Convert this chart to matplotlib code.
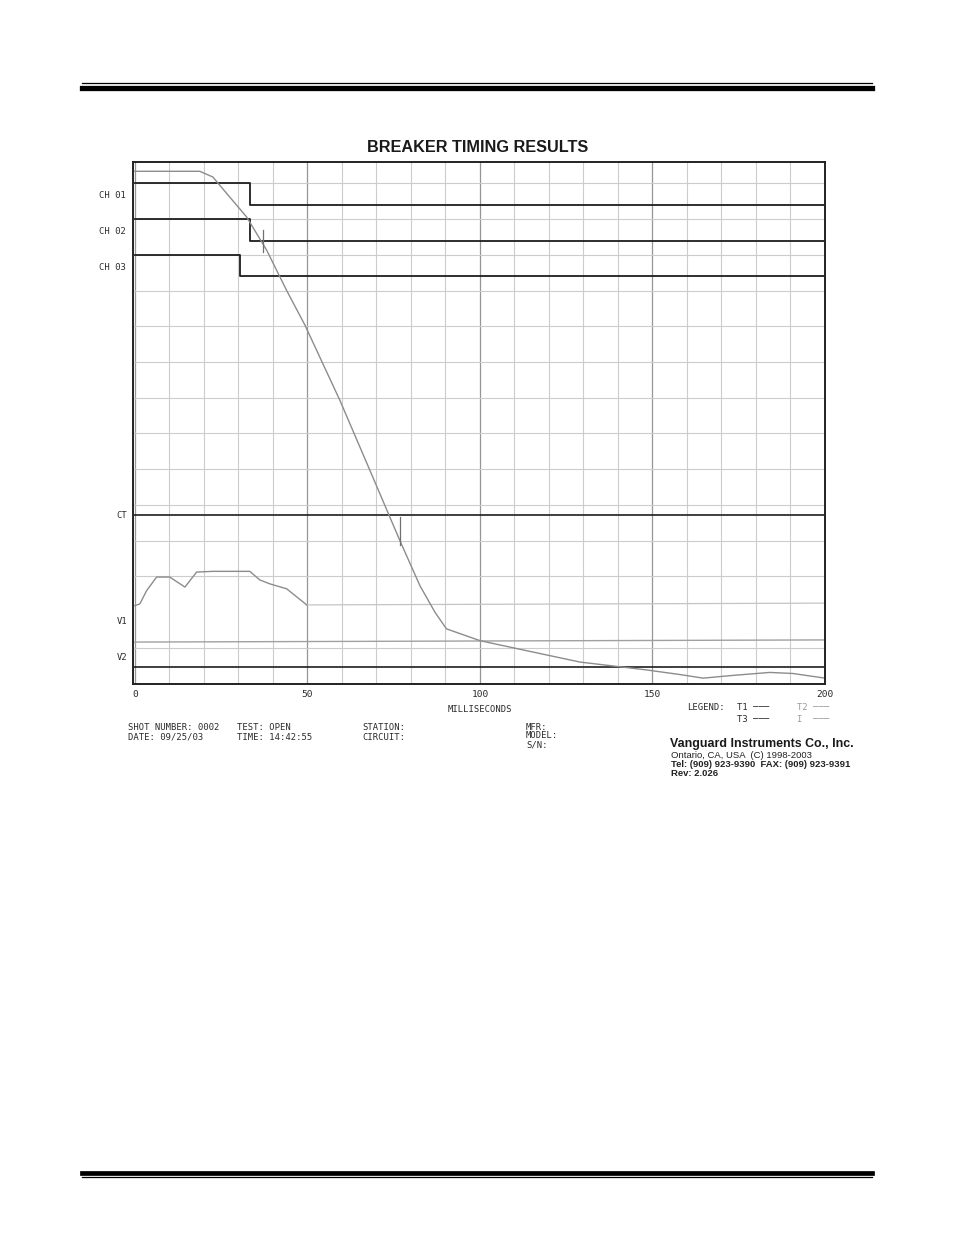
import matplotlib
matplotlib.use("Agg")
import matplotlib.pyplot as plt
from matplotlib.lines import Line2D

W, H = 954, 1235

# trace "I" (gray curve), ms vs grid units
i_ms = [0, 18.8, 22.6, 26.6, 32.4, 38.2, 44.0, 49.3, 59.4, 68.1, 76.8, 82.6,
        87.0, 90.3, 100.0, 109.6, 129.0, 148.3, 158.0, 164.7, 172.5, 184.0,
        190.7, 200.0]
i_val = [14.34, 14.34, 14.18, 13.72, 13.06, 12.13, 11.0, 10.03, 7.93, 5.97,
         4.0, 2.74, 1.99, 1.53, 1.2, 1.0, 0.6, 0.38, 0.25, 0.15, 0.22, 0.31,
         0.28, 0.15]

# V1 trace (active part, then resting baseline)
v1_ms = [0, 1.45, 3.4, 6.3, 10.1, 14.5, 17.9, 22.7, 27.5, 33.3, 36.2, 39.1,
         44.0, 49.8]
v1_val = [2.18, 2.23, 2.6, 2.98, 2.98, 2.7, 3.12, 3.14, 3.14, 3.14, 2.9,
          2.79, 2.65, 2.2]
v1_rest_ms = [49.8, 200]
v1_rest_val = [2.2, 2.25]

# V2 trace (flat, light)
v2_ms = [0, 200]
v2_val = [1.16, 1.22]

# contact channels: (high level, low level, opening time ms)
ch_names = ["CH 01", "CH 02", "CH 03"]
ch_high = [14.0, 13.0, 12.0]
ch_low = [13.4, 12.4, 11.4]
ch_open = [33.3, 33.5, 30.4]

ct_level = 4.72
v2_base = 0.45

# small marks on the I curve
mark_ms = [37.0, 76.8]
mark_lo = [12.07, 3.87]
mark_hi = [12.7, 4.65]

x_major = [0, 50, 100, 150, 200]
y_grid = [0, 1, 3, 4, 5, 6, 7, 8, 9, 10, 11, 12, 13, 14]

MONO = "DejaVu Sans Mono"


def fx(x):
    return x / W


def fy(y):
    return 1 - y / H


def main():
    fig = plt.figure(figsize=(W / 100, H / 100), dpi=100)
    fig.patch.set_facecolor("white")

    # page rules
    for y, lw in [(83.0, 0.9), (87.6, 3.8), (1173.3, 3.4), (1177.4, 0.9)]:
        fig.add_artist(Line2D([fx(82), fx(872)], [fy(y), fy(y)],
                              transform=fig.transFigure, color="black", lw=lw))

    ax = fig.add_axes([fx(133.5), fy(683.5), fx(825 - 133.5), (683.5 - 162) / H])
    ax.set_xlim(-0.4, 200)
    ax.set_ylim(0, 14.6)

    ax.set_xticks(x_major)
    ax.set_xticks(range(0, 201, 10), minor=True)
    ax.set_yticks(y_grid)
    ax.set_yticklabels([])
    ax.set_xticklabels([str(v) for v in x_major], family=MONO, fontsize=6.8,
                       color="#2a2a2a")
    ax.tick_params(which="both", length=0, pad=5)
    ax.grid(True, which="minor", axis="x", color="#cccccc", lw=0.8)
    ax.grid(True, which="major", axis="x", color="#959595", lw=0.9)
    ax.grid(True, which="major", axis="y", color="#cccccc", lw=0.8)
    ax.set_axisbelow(True)
    for s in ax.spines.values():
        s.set_color("#222222")
        s.set_linewidth(1.4)

    # contact channels
    for hi, lo, t in zip(ch_high, ch_low, ch_open):
        ax.plot([0, t, t, 200], [hi, hi, lo, lo], color="#1e1e1e", lw=1.3)

    ax.axhline(ct_level, color="#1e1e1e", lw=1.2)
    ax.axhline(v2_base, color="#1e1e1e", lw=1.2)

    ax.plot(v2_ms, v2_val, color="#a0a0a0", lw=1.0)
    ax.plot(v1_rest_ms, v1_rest_val, color="#c4c4c4", lw=0.9)
    ax.plot(v1_ms, v1_val, color="#8c8c8c", lw=1.0)
    ax.plot(i_ms, i_val, color="#8c8c8c", lw=1.0)
    for t, lo, hi in zip(mark_ms, mark_lo, mark_hi):
        ax.plot([t, t], [lo, hi], color="#707070", lw=0.9)

    # title
    fig.text(fx(478), fy(148), "BREAKER TIMING RESULTS", ha="center",
             va="center", fontsize=11.7, fontweight="bold",
             family="Liberation Sans", color="#1a1a1a")

    # channel labels
    lab = dict(family=MONO, fontsize=6.4, color="#2a2a2a", va="center")
    for name, y in zip(ch_names, [196, 231, 267]):
        fig.text(fx(112), fy(y), name, ha="center", **lab)
    for name, y in [("CT", 516), ("V1", 622), ("V2", 658)]:
        fig.text(fx(122), fy(y), name, ha="center", **lab)

    fig.text(fx(480), fy(710), "MILLISECONDS", ha="center", **lab)

    # info block
    info = [(128, 728, "SHOT NUMBER: 0002"), (128, 737, "DATE: 09/25/03"),
            (237, 728, "TEST: OPEN"), (237, 737, "TIME: 14:42:55"),
            (362, 728, "STATION:"), (362, 737, "CIRCUIT:"),
            (526, 727, "MFR:"), (526, 736, "MODEL:"), (526, 745, "S/N:")]
    for x, y, s in info:
        fig.text(fx(x), fy(y), s, ha="left", **lab)

    # legend
    dash = "\u2500\u2500\u2500"
    fig.text(fx(687), fy(708), "LEGEND:", ha="left", **lab)
    fig.text(fx(737), fy(708), "T1 " + dash, ha="left", **lab)
    fig.text(fx(737), fy(720), "T3 " + dash, ha="left", **lab)
    lab_light = dict(lab, color="#9a9a9a")
    fig.text(fx(797), fy(708), "T2 " + dash, ha="left", **lab_light)
    fig.text(fx(797), fy(720), "I  " + dash, ha="left", **lab_light)

    # company block
    fig.text(fx(670), fy(744), "Vanguard Instruments Co., Inc.", ha="left",
             va="center", fontsize=8.9, fontweight="bold",
             family="Liberation Sans", color="#1a1a1a")
    small = dict(ha="left", va="center", fontsize=6.8, family="Liberation Sans",
                 color="#222222")
    fig.text(fx(671), fy(756), "Ontario, CA, USA  (C) 1998-2003", **small)
    fig.text(fx(671), fy(764.5), "Tel: (909) 923-9390  FAX: (909) 923-9391",
             fontweight="bold", **small)
    fig.text(fx(671), fy(773.5), "Rev: 2.026", fontweight="bold", **small)

    fig.savefig("out.png", dpi=100, facecolor="white")


if __name__ == "__main__":
    main()
